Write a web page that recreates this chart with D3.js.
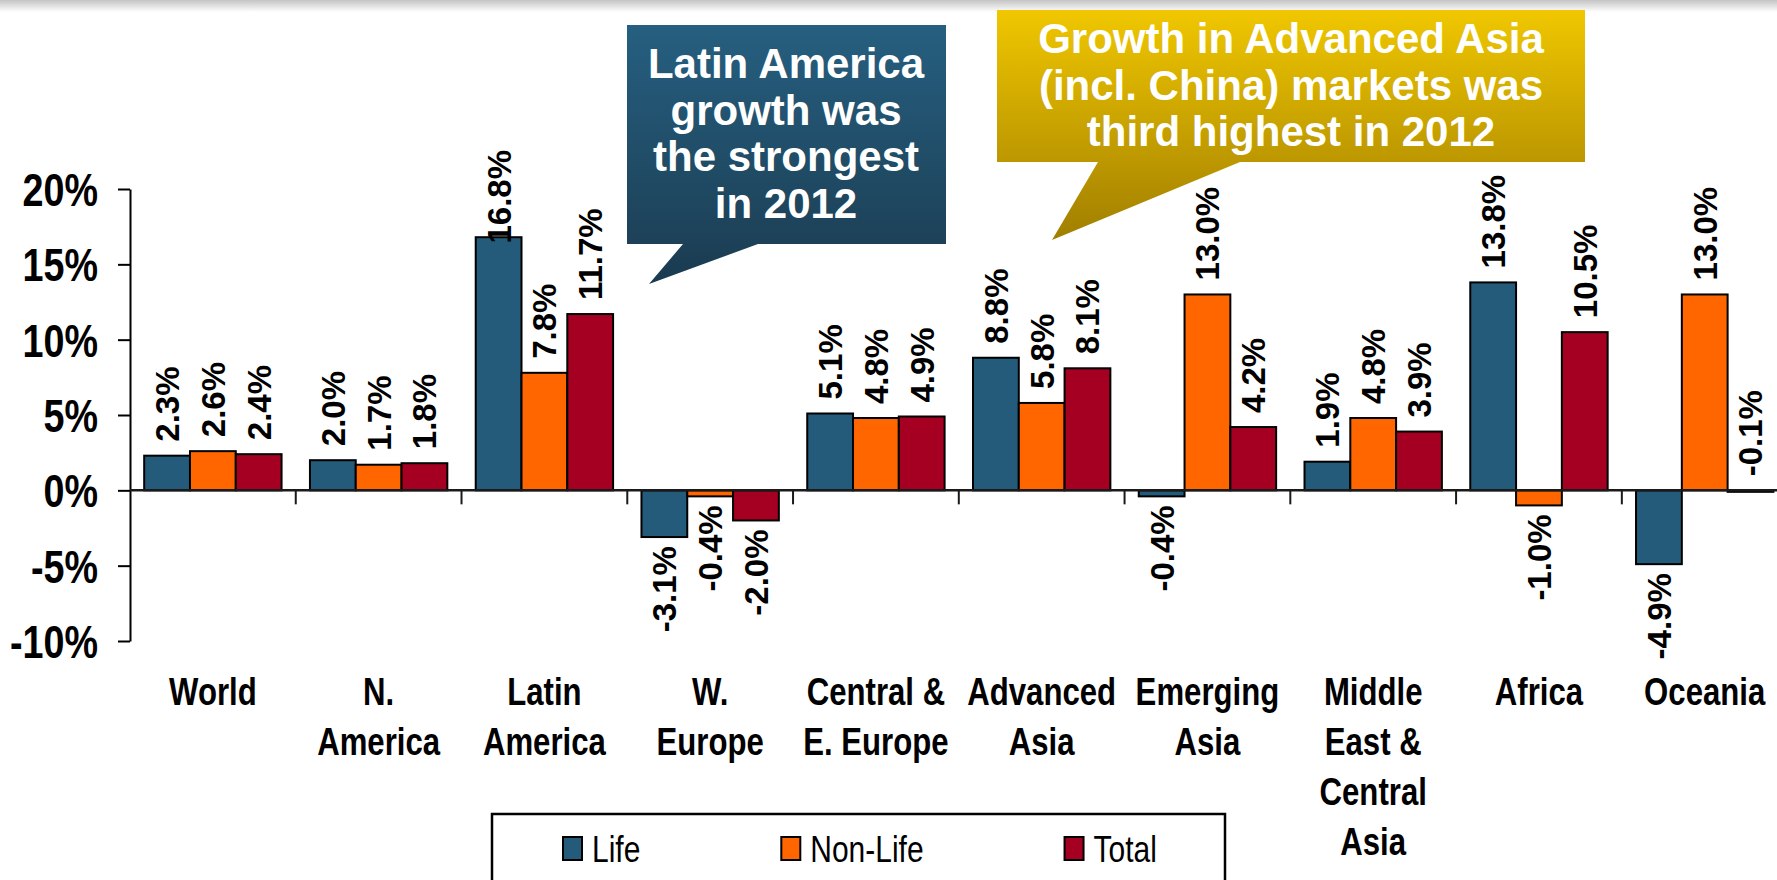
<!DOCTYPE html>
<html>
<head>
<meta charset="utf-8">
<script src="https://cdn.jsdelivr.net/npm/d3@7"></script>
<style>
  body { margin: 0; background: #fff; }
  svg { display: block; font-family: "Liberation Sans", Arial, sans-serif; }
</style>
</head>
<body>
<svg id="chart"></svg>
<script>
// data
var categories = [
  ["World"], ["N.", "America"], ["Latin", "America"], ["W.", "Europe"],
  ["Central &", "E. Europe"], ["Advanced", "Asia"], ["Emerging", "Asia"],
  ["Middle", "East &", "Central", "Asia"], ["Africa"], ["Oceania"]
];
var seriesNames = ["Life", "Non-Life", "Total"];
var lifeValues    = [2.3, 2.0, 16.8, -3.1, 5.1, 8.8, -0.4, 1.9, 13.8, -4.9];
var nonLifeValues = [2.6, 1.7, 7.8, -0.4, 4.8, 5.8, 13.0, 4.8, -1.0, 13.0];
var totalValues   = [2.4, 1.8, 11.7, -2.0, 4.9, 8.1, 4.2, 3.9, 10.5, -0.1];
var yTicks = [-10, -5, 0, 5, 10, 15, 20];
var seriesColors = ["#245B7B", "#FF6600", "#A50021"];
var calloutBlueText = ["Latin America", "growth was", "the strongest", "in 2012"];
var calloutGoldText = ["Growth in Advanced Asia", "(incl. China) markets was", "third highest in 2012"];

var width = 1777, height = 880;
var svg = d3.select("#chart").attr("width", width).attr("height", height);
var defs = svg.append("defs");

// top shadow band
var sh = defs.append("linearGradient").attr("id", "topShade")
  .attr("x1", 0).attr("y1", 0).attr("x2", 0).attr("y2", 1);
sh.append("stop").attr("offset", "0%").attr("stop-color", "#c4c4c4");
sh.append("stop").attr("offset", "100%").attr("stop-color", "#ffffff");
svg.append("rect").attr("x", 0).attr("y", 0).attr("width", width).attr("height", 12)
  .attr("fill", "url(#topShade)");

var x0 = d3.scaleBand().domain(d3.range(categories.length)).range([130, 1787.6]).padding(0);
var x1 = d3.scaleBand().domain(seriesNames).range([0, x0.bandwidth()])
  .paddingInner(0).paddingOuter(0.31);
var y = d3.scaleLinear().domain([-10, 20]).range([641, 189]);

var rows = [lifeValues, nonLifeValues, totalValues];
var barData = [];
categories.forEach(function (c, i) {
  seriesNames.forEach(function (s, j) {
    barData.push({ cat: i, series: s, color: seriesColors[j], value: rows[j][i] });
  });
});

// y axis
var yAxis = svg.append("g")
  .attr("transform", "translate(130,0)")
  .call(d3.axisLeft(y).tickValues(yTicks).tickSize(12).tickSizeOuter(0)
    .tickFormat(function (d) { return d + "%"; }));
yAxis.select(".domain").attr("stroke", "#000").attr("stroke-width", 2);
yAxis.selectAll(".tick line").attr("stroke", "#000").attr("stroke-width", 2);
yAxis.selectAll(".tick text")
  .attr("x", 0).attr("dy", "0.36em")
  .attr("transform", "translate(-32,0) scale(0.82,1)")
  .attr("text-anchor", "end")
  .style("font-family", "'Liberation Sans', Arial, sans-serif")
  .style("font-size", "46px").style("font-weight", "bold").attr("fill", "#000");

// bars
svg.append("g").selectAll("rect")
  .data(barData)
  .enter().append("rect")
  .attr("x", function (d) { return x0(d.cat) + x1(d.series); })
  .attr("y", function (d) { return y(Math.max(0, d.value)); })
  .attr("width", x1.bandwidth())
  .attr("height", function (d) { return Math.abs(y(d.value) - y(0)); })
  .attr("fill", function (d) { return d.color; })
  .attr("stroke", "#000").attr("stroke-width", 2);

// zero line + category ticks
svg.append("line")
  .attr("x1", 130).attr("x2", width).attr("y1", y(0)).attr("y2", y(0))
  .attr("stroke", "#1a1a1a").attr("stroke-width", 2.5);
svg.append("g").selectAll("line")
  .data(d3.range(1, categories.length))
  .enter().append("line")
  .attr("x1", function (d) { return x0(d); }).attr("x2", function (d) { return x0(d); })
  .attr("y1", y(0)).attr("y2", y(0) + 14)
  .attr("stroke", "#1a1a1a").attr("stroke-width", 2);

// value labels
var labelTop = 150;
var labels = svg.append("g").selectAll("text")
  .data(barData)
  .enter().append("text")
  .style("font-size", "33px").style("font-weight", "bold").attr("fill", "#000")
  .attr("dy", "0.36em")
  .text(function (d) { return d.value.toFixed(1) + "%"; });

labels.each(function (d) {
  var t = d3.select(this);
  var len = this.getComputedTextLength();
  var cx = x0(d.cat) + x1(d.series) + x1.bandwidth() / 2;
  if (d.value >= 0 || Math.abs(d.value) < 0.2) {
    var start = y(Math.max(0, d.value)) - 14;
    if (start - len < labelTop) start = labelTop + len;
    t.attr("text-anchor", "start")
      .attr("transform", "translate(" + cx + "," + start + ") rotate(-90)");
  } else {
    t.attr("text-anchor", "end")
      .attr("transform", "translate(" + cx + "," + (y(d.value) + 9) + ") rotate(-90)");
  }
});

// category labels
var catG = svg.append("g").selectAll("text")
  .data(categories)
  .enter().append("text")
  .attr("transform", function (d, i) {
    return "translate(" + (x0(i) + x0.bandwidth() / 2) + ",705) scale(0.82,1)";
  })
  .attr("text-anchor", "middle")
  .style("font-size", "38px").style("font-weight", "bold").attr("fill", "#000");
catG.selectAll("tspan")
  .data(function (d) { return d; })
  .enter().append("tspan")
  .attr("x", 0)
  .attr("dy", function (d, i) { return i === 0 ? 0 : 50; })
  .text(function (d) { return d; });

// legend
var legend = svg.append("g");
legend.append("rect")
  .attr("x", 492).attr("y", 814).attr("width", 733).attr("height", 120)
  .attr("fill", "#fff").attr("stroke", "#000").attr("stroke-width", 2.5);
var lx = 563;
seriesNames.forEach(function (s, j) {
  legend.append("rect")
    .attr("x", lx).attr("y", 837).attr("width", 19).attr("height", 23)
    .attr("fill", seriesColors[j]).attr("stroke", "#000").attr("stroke-width", 2);
  var t = legend.append("text")
    .attr("transform", "translate(" + (lx + 29) + ",862) scale(0.81,1)")
    .style("font-size", "37px").attr("fill", "#000")
    .text(s);
  lx += 29 + t.node().getComputedTextLength() * 0.81 + 141;
});

// callouts
function gradient(id, stops) {
  var g = defs.append("linearGradient").attr("id", id)
    .attr("x1", 0).attr("y1", 0).attr("x2", 0).attr("y2", 1);
  stops.forEach(function (s) {
    g.append("stop").attr("offset", s[0]).attr("stop-color", s[1]);
  });
}
gradient("blueGrad", [["0%", "#265F80"], ["82%", "#1D4259"], ["100%", "#1A3A4F"]]);
gradient("goldGrad", [["0%", "#F0C700"], ["66%", "#BC9700"], ["100%", "#A07F00"]]);

var callouts = [
  { fill: "url(#blueGrad)", cx: 786, y0: 78, lines: calloutBlueText,
    path: "M627,25H946V244H758L649,284L683,244H627Z" },
  { fill: "url(#goldGrad)", cx: 1291, y0: 53, lines: calloutGoldText,
    path: "M997,10H1585V162H1240L1052,240L1098,162H997Z" }
];
callouts.forEach(function (c) {
  svg.append("path").attr("d", c.path).attr("fill", c.fill);
  var t = svg.append("text")
    .attr("text-anchor", "middle")
    .style("font-size", "42px").style("font-weight", "bold").attr("fill", "#fff");
  t.selectAll("tspan").data(c.lines).enter().append("tspan")
    .attr("x", c.cx)
    .attr("y", function (d, i) { return c.y0 + i * 46.5; })
    .text(function (d) { return d; });
});
</script>
</body>
</html>
